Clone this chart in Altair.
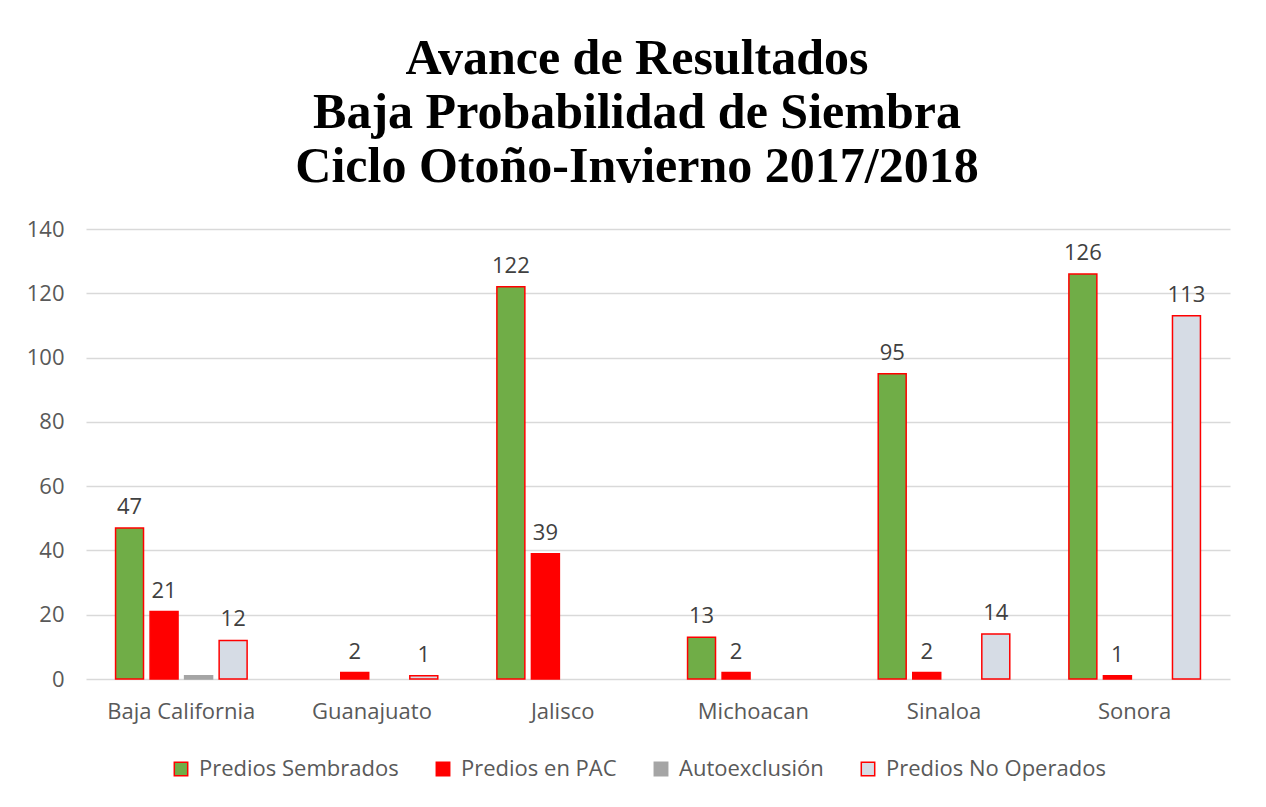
import altair as alt
import pandas as pd

estados = ["Baja California", "Guanajuato", "Jalisco", "Michoacan", "Sinaloa", "Sonora"]
series = ["Predios Sembrados", "Predios en PAC", "Autoexclusión", "Predios No Operados"]
sembrados = [47, None, 122, 13, 95, 126]
pac = [21, 2, 39, 2, 2, 1]
autoexclusion = [1, None, None, None, None, None]
no_operados = [12, 1, None, None, 14, 113]

fills = ["#70ad47", "#ff0000", "#a5a5a5", "#d6dce5"]
strokes = ["#ff0000", "#ff0000", "#a5a5a5", "#ff0000"]

rows = []
for s, vals in zip(series, [sembrados, pac, autoexclusion, no_operados]):
    for e, v in zip(estados, vals):
        if v is not None:
            rows.append({"estado": e, "serie": s, "valor": v,
                         "label": "" if s == "Autoexclusión" else str(v)})
df = pd.DataFrame(rows)

FONT = "Open Sans"
FS = 22
x = alt.X("estado:N", sort=estados, title=None,
          scale=alt.Scale(paddingInner=0.31, paddingOuter=0.155),
          axis=alt.Axis(labelAngle=0, labelFontSize=FS, labelColor="#595959",
                        labelFont=FONT, ticks=False, domain=False, labelPadding=22))
xo = alt.XOffset("serie:N", sort=series, scale=alt.Scale(paddingInner=0.19, paddingOuter=0))

bars = alt.Chart(df).mark_bar(strokeWidth=1.5).encode(
    x=x, xOffset=xo,
    y=alt.Y("valor:Q", title=None,
            scale=alt.Scale(domain=[0, 140]),
            axis=alt.Axis(values=list(range(0, 141, 20)), labelFontSize=FS,
                          labelColor="#595959", labelFont=FONT, ticks=False,
                          domain=False, gridColor="#d9d9d9", gridWidth=1.3,
                          labelPadding=22)),
    fill=alt.Fill("serie:N", sort=series,
                  scale=alt.Scale(domain=series, range=fills),
                  legend=alt.Legend(title=None, orient="none", direction="horizontal",
                                    legendX=84, legendY=529, symbolType="square",
                                    symbolSize=180, symbolStrokeWidth=1.5,
                                    labelFontSize=FS, labelColor="#595959",
                                    labelFont=FONT, labelLimit=0, labelOffset=7,
                                    columnPadding=33, columns=4)),
    stroke=alt.Stroke("serie:N", sort=series,
                      scale=alt.Scale(domain=series, range=strokes)),
)

labels = alt.Chart(df).mark_text(baseline="bottom", dy=-9, fontSize=FS,
                                 color="#404040", font=FONT).encode(
    x=x, xOffset=xo,
    y=alt.Y("valor:Q"),
    text="label:N",
)

chart = alt.layer(bars, labels).properties(
    width=1144, height=450,
    title=alt.TitleParams(
        text=["Avance de Resultados", "Baja Probabilidad de Siembra",
              "Ciclo Otoño-Invierno 2017/2018"],
        font="Liberation Serif", fontSize=50, fontWeight="bold", color="black",
        lineHeight=54, anchor="middle", dx=-21, offset=26),
    padding={"left": 18, "top": 26, "right": 20, "bottom": 20},
).configure_view(stroke=None)

chart.save("out.html", embed_options={"renderer": "svg", "actions": False})
